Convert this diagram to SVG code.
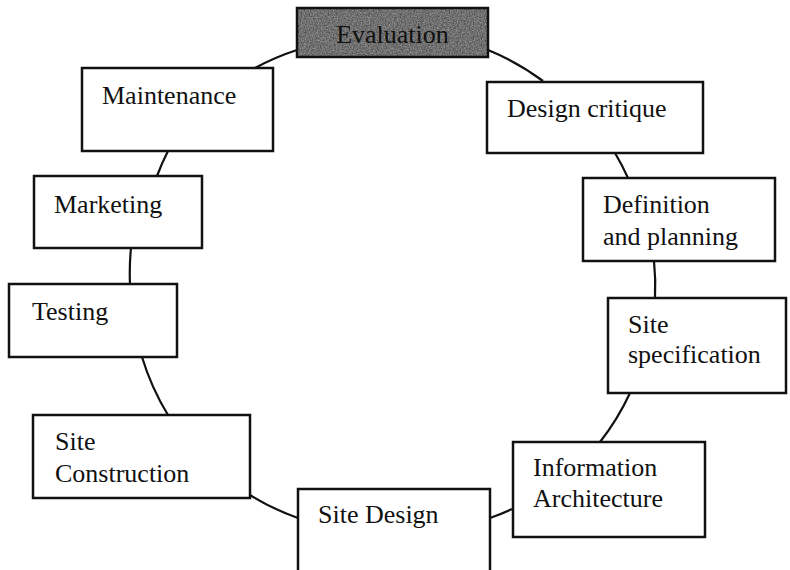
<svg xmlns="http://www.w3.org/2000/svg" width="790" height="570" viewBox="0 0 790 570">
  <style>
    .box { fill: #ffffff; stroke: #111111; stroke-width: 2.5; }
    .lbl { font-family: "Liberation Serif", "Times New Roman", serif; font-size: 26px; fill: #111111; }
    .link { fill: none; stroke: #111111; stroke-width: 2.2; }
  </style>
  <defs>
    <!-- granite-like grey fill for the highlighted stage -->
    <filter id="granite" x="0" y="0" width="1" height="1" color-interpolation-filters="sRGB">
      <feTurbulence type="fractalNoise" baseFrequency="0.75" numOctaves="2" seed="3" result="noise"/>
      <feColorMatrix in="noise" type="matrix"
        values="0 0 0 0 0.33
                0 0 0 0 0.33
                0 0 0 0 0.33
                0 0 0 0 1" result="base"/>
      <feColorMatrix in="noise" type="matrix"
        values="1.2 0 0 0 0
                1.2 0 0 0 0
                1.2 0 0 0 0
                0 0 0 0 0.4" result="speck"/>
      <feComposite in="speck" in2="base" operator="over" result="tex"/>
      <feComposite in="tex" in2="SourceGraphic" operator="in"/>
    </filter>
  </defs>
  <rect width="790" height="570" fill="#ffffff"/>

  <!-- cycle connectors -->
  <g id="connectors">
    <path class="link" d="M488 50 A250 250 0 0 1 543 81"/>
    <path class="link" d="M615 153 A250 250 0 0 1 628 178"/>
    <path class="link" d="M654 261 A250 250 0 0 1 655 298"/>
    <path class="link" d="M630 393 A250 250 0 0 1 600 442"/>
    <path class="link" d="M512 509 A250 250 0 0 1 490 518"/>
    <path class="link" d="M298 518 A250 250 0 0 1 250 495"/>
    <path class="link" d="M168 415 A250 250 0 0 1 142 357"/>
    <path class="link" d="M130 284 A250 250 0 0 1 131 248"/>
    <path class="link" d="M157 176 A250 250 0 0 1 168 151"/>
    <path class="link" d="M255 68 A250 250 0 0 1 297 50"/>
  </g>

  <g id="evaluation">
    <rect x="297" y="8" width="191" height="49" fill="#5a5a5a" filter="url(#granite)"/>
    <rect x="297" y="8" width="191" height="49" fill="none" stroke="#111111" stroke-width="2.5"/>
    <text class="lbl" x="392.5" y="43" text-anchor="middle">Evaluation</text>
  </g>

  <g id="design-critique">
    <rect class="box" x="487" y="82" width="216" height="71"/>
    <text class="lbl" x="507" y="117">Design critique</text>
  </g>

  <g id="definition-planning">
    <rect class="box" x="583" y="178" width="192" height="83"/>
    <text class="lbl" x="603" y="213">Definition</text>
    <text class="lbl" x="603" y="245">and planning</text>
  </g>

  <g id="site-specification">
    <rect class="box" x="608" y="298" width="178" height="95"/>
    <text class="lbl" x="628" y="333">Site</text>
    <text class="lbl" x="628" y="363">specification</text>
  </g>

  <g id="information-architecture">
    <rect class="box" x="513" y="442" width="192" height="95"/>
    <text class="lbl" x="533" y="476">Information</text>
    <text class="lbl" x="533" y="507">Architecture</text>
  </g>

  <g id="site-design">
    <rect class="box" x="298" y="489" width="192" height="95"/>
    <text class="lbl" x="318" y="523">Site Design</text>
  </g>

  <g id="site-construction">
    <rect class="box" x="33" y="415" width="217" height="83"/>
    <text class="lbl" x="55" y="450">Site</text>
    <text class="lbl" x="55" y="482">Construction</text>
  </g>

  <g id="testing">
    <rect class="box" x="9" y="284" width="168" height="73"/>
    <text class="lbl" x="32" y="320">Testing</text>
  </g>

  <g id="marketing">
    <rect class="box" x="34" y="176" width="168" height="72"/>
    <text class="lbl" x="54" y="213">Marketing</text>
  </g>

  <g id="maintenance">
    <rect class="box" x="82" y="68" width="191" height="83"/>
    <text class="lbl" x="102" y="104">Maintenance</text>
  </g>
</svg>
